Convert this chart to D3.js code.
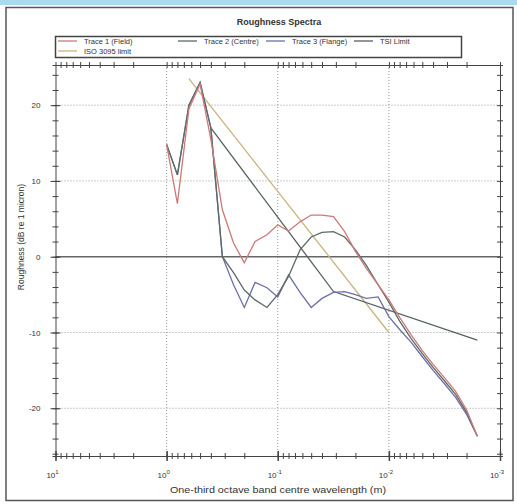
<!DOCTYPE html>
<html><head><meta charset="utf-8">
<script src="https://cdn.jsdelivr.net/npm/d3@7"></script>
<style>body{margin:0;background:#fff}svg{display:block}text{font-family:"Liberation Sans",Arial,sans-serif}</style>
</head><body><svg id="c" width="517" height="504"></svg>
<script>
const wavelengths=[1,0.8,0.63,0.5,0.4,0.315,0.25,0.2,0.16,0.125,0.1,0.08,0.063,0.05,0.04,0.0315,0.025,0.02,0.016,0.0125,0.01,0.008,0.0063,0.005,0.004,0.00315,0.0025,0.002,0.0016];
const trace1=[14.8,7.0,19.5,22.8,15.5,6.2,1.8,-0.8,2.0,2.9,4.2,3.4,4.6,5.5,5.5,5.3,3.3,0.7,-1.5,-3.7,-5.7,-8.0,-10.3,-12.4,-14.2,-16.0,-17.8,-20.2,-23.7];
const trace2=[14.8,10.8,20.0,23.0,17.0,0.0,-2.1,-4.4,-5.7,-6.7,-5.0,-2.6,0.9,2.6,3.2,3.3,2.6,0.9,-1.1,-3.7,-6.0,-8.5,-10.8,-12.8,-14.6,-16.4,-18.2,-20.5,-23.7];
const trace3=[14.8,10.8,20.0,23.0,17.0,0.0,-3.7,-6.7,-3.4,-4.1,-5.3,-2.4,-4.7,-6.7,-5.5,-4.7,-4.6,-5.0,-5.5,-5.3,-7.9,-9.6,-11.3,-13.2,-15.0,-16.8,-18.6,-20.8,-23.7];
const tsiWavelengths=[0.4,0.0315,0.0016];
const tsiLevels=[17.0,-4.6,-11.0];
const isoWavelengths=[0.63,0.01];
const isoLevels=[23.5,-10.0];
const seriesNames=["Trace 1 (Field)","Trace 2 (Centre)","Trace 3 (Flange)","TSI Limit","ISO 3095 limit"];
const seriesColors=["#cc7a78","#5d6b66","#6c6fa8","#55605f","#c9b27e"];
const xTickValues=[10,1,0.1,0.01,0.001];
const xTickExps=["1","0","-1","-2","-3"];
const yTickValues=[-20,-10,0,10,20];
const titleText="Roughness Spectra";
const xLabel="One-third octave band centre wavelength (m)";
const yLabel="Roughness (dB re 1 micron)";

const svg=d3.select("#c");
svg.append("rect").attr("x",0).attr("y",0).attr("width",517).attr("height",5).attr("fill","#a9daf2");
svg.append("rect").attr("x",6).attr("y",7.5).attr("width",507).attr("height",493).attr("fill","#fff").attr("stroke","#555").attr("stroke-width",1.5);

const L=55.5,R=500,T=65,B=456;
const x=d3.scaleLog().domain([10,0.001]).range([L,R]);
const y=d3.scaleLinear().domain([-26.3,25.3]).range([B,T]);

const g=svg.append("g");
[1,0.1,0.01].forEach(v=>g.append("line").attr("x1",x(v)).attr("x2",x(v)).attr("y1",T).attr("y2",B).attr("stroke","#999").attr("stroke-dasharray","1,2"));
[-20,-10,10,20].forEach(v=>g.append("line").attr("x1",L).attr("x2",R).attr("y1",y(v)).attr("y2",y(v)).attr("stroke","#999").attr("stroke-dasharray","1,2"));
g.append("line").attr("x1",L).attr("x2",R).attr("y1",y(0)).attr("y2",y(0)).attr("stroke","#666").attr("stroke-width",1.5);

const minorX=[];for(let e=1;e>=-3;e--){for(let m=1;m<10;m++){const v=m*Math.pow(10,e-1);if(v<=10&&v>=0.001)minorX.push(v);}}
svg.append("g").attr("transform",`translate(0,${B})`).call(d3.axisBottom(x).tickValues(minorX).tickSize(3).tickFormat("")).call(s=>{s.select(".domain").attr("stroke","#444");s.selectAll("line").attr("stroke","#444").attr("y1",-3);});
svg.append("g").attr("transform",`translate(0,${B})`).call(d3.axisBottom(x).tickValues(xTickValues).tickSize(5).tickFormat("")).call(s=>{s.select(".domain").remove();s.selectAll("line").attr("stroke","#444").attr("y1",-5).attr("stroke-width",1.5);});
svg.append("g").attr("transform",`translate(0,${T})`).call(d3.axisTop(x).tickValues(minorX).tickSize(3).tickFormat("")).call(s=>{s.select(".domain").attr("stroke","#444");s.selectAll("line").attr("stroke","#444").attr("y1",3);});
const minorY=d3.range(-26,26,2);
svg.append("g").attr("transform",`translate(${L},0)`).call(d3.axisLeft(y).tickValues(minorY).tickSize(3).tickFormat("")).call(s=>{s.select(".domain").attr("stroke","#444");s.selectAll("line").attr("stroke","#444").attr("x1",3);});
svg.append("g").attr("transform",`translate(${L},0)`).call(d3.axisLeft(y).tickValues(yTickValues).tickSize(5).tickFormat(d=>d)).call(s=>{s.select(".domain").remove();s.selectAll("line").attr("stroke","#444").attr("x1",5);s.selectAll("text").attr("font-size",8).attr("fill","#333").attr("x",-15);});
svg.append("g").attr("transform",`translate(${R},0)`).call(d3.axisRight(y).tickValues(minorY).tickSize(3).tickFormat("")).call(s=>{s.select(".domain").attr("stroke","#444");s.selectAll("line").attr("stroke","#444").attr("x1",-3);});

xTickValues.forEach((v,i)=>{const t=svg.append("text").attr("x",x(v)-3).attr("y",B+22).attr("text-anchor","middle").attr("font-size",8).attr("fill","#333");t.append("tspan").text("10");t.append("tspan").attr("dy",-4).attr("font-size",6).text(xTickExps[i]);});

const lineGen=d3.line().x(d=>x(d[0])).y(d=>y(d[1]));
const seriesData=[d3.zip(wavelengths,trace1),d3.zip(wavelengths,trace2),d3.zip(wavelengths,trace3),d3.zip(tsiWavelengths,tsiLevels),d3.zip(isoWavelengths,isoLevels)];
[4,3,2,1,0].forEach(i=>svg.append("path").attr("d",lineGen(seriesData[i])).attr("fill","none").attr("stroke",seriesColors[i]).attr("stroke-width",1.3));

svg.append("text").attr("x",279).attr("y",25).attr("text-anchor","middle").attr("font-size",9).attr("font-weight","bold").attr("fill","#333").text(titleText);
svg.append("text").attr("x",278).attr("y",493).attr("text-anchor","middle").attr("font-size",9).attr("textLength",216).attr("lengthAdjust","spacingAndGlyphs").attr("fill","#333").text(xLabel);
svg.append("text").attr("transform",`translate(24,237) rotate(-90)`).attr("text-anchor","middle").attr("font-size",8.5).attr("fill","#333").text(yLabel);

svg.append("rect").attr("x",55.5).attr("y",36.5).attr("width",406).attr("height",21).attr("fill","none").attr("stroke","#444").attr("stroke-width",1.5);
const legPos=[[58,44],[178,44],[266,44],[354,44],[58,54]];
seriesNames.forEach((n,i)=>{const [lx,ly]=legPos[i];svg.append("line").attr("x1",lx).attr("x2",lx+19).attr("y1",ly-3).attr("y2",ly-3).attr("stroke",seriesColors[i]).attr("stroke-width",1.3);svg.append("text").attr("x",lx+26).attr("y",ly).attr("font-size",7.5).attr("fill","#333").text(n);});
</script></body></html>
